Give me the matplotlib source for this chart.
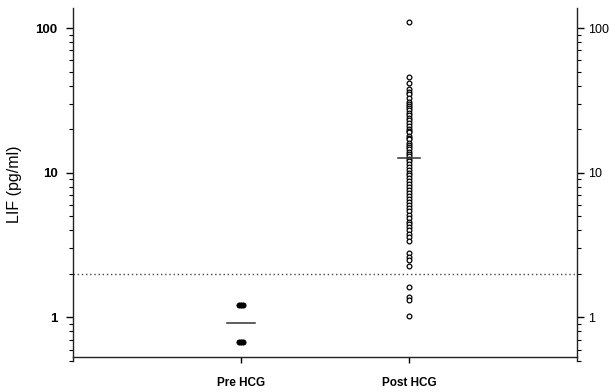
import matplotlib
matplotlib.use("Agg")
import matplotlib.pyplot as plt
from matplotlib.ticker import LogLocator, NullFormatter, FixedLocator

plt.rcParams['font.family'] = ['Liberation Sans', 'DejaVu Sans']

categories = ["Pre HCG", "Post HCG"]
pre_values = [1.22, 1.22, 1.22, 0.68, 0.68, 0.68]
post_values = [110, 45.7, 42, 37.8, 36, 35, 33,
               31, 30, 29, 28, 27, 26, 25, 24, 23, 22, 21, 20, 19.5, 19, 18, 17.5,
               17, 16, 15.5, 15, 14.5, 14, 13.5, 13, 12.5, 12, 11.5, 11, 10.5, 10,
               9.6, 9.2, 8.8, 8.4, 8, 7.6, 7.2, 6.9, 6.6, 6.3, 6.0, 5.7, 5.4, 5.1,
               4.9, 4.6, 4.4, 4.2, 4.0, 3.8, 3.6, 3.4,
               2.79, 2.61, 2.48, 2.25, 1.62, 1.38, 1.31, 1.02]
means = [0.92, 12.6]
threshold = 2.0
ytick_vals = [1, 10, 100]
ytick_labels = ["1", "10", "100"]

fig = plt.figure(figsize=(6.11, 3.92), dpi=100)
ax = fig.add_axes([0.1195, 0.0791, 0.8249, 0.9005])
ax.set_yscale('log')
ax.set_ylim(0.5, 137.5)
ax.set_xlim(0, 3)

# threshold line
ax.axhline(threshold, color='#444444', linestyle=(0, (1, 2)), linewidth=1.0, zorder=1)

# pre points (filled, slightly overlapping to form small bars)
for dx in (-0.012, 0.0, 0.012):
    ax.plot([1 + dx] * len(pre_values), pre_values, 'o', color='black',
            markersize=3.0, zorder=3)

# post points
ax.plot([2] * len(post_values), post_values, 'o', markerfacecolor='white',
        markeredgecolor='black', markersize=3.4, markeredgewidth=0.9, zorder=3)

# mean lines
half_widths = [0.085, 0.065]
for i, (m, hw) in enumerate(zip(means, half_widths)):
    ax.plot([i + 1 - hw, i + 1 + hw], [m, m], color='#333333', linewidth=1.1, zorder=4)

# spines
ax.spines['top'].set_visible(False)
ax.spines['right'].set_visible(False)
ax.spines['bottom'].set_position(('data', 0.53))
for s in ('left', 'bottom'):
    ax.spines[s].set_linewidth(1.0)
    ax.spines[s].set_color('#222222')

ax.set_xticks([1, 2])
ax.set_xticklabels(categories, fontsize=8.5, fontweight='bold')
ax.tick_params(axis='x', direction='out', length=4, width=1, pad=10)

def style_y(a, side):
    a.yaxis.set_major_locator(FixedLocator(ytick_vals))
    a.set_yticklabels(ytick_labels)
    a.yaxis.set_minor_locator(LogLocator(base=10, subs=[2, 3, 4, 5, 6, 7, 8, 9]))
    a.yaxis.set_minor_formatter(NullFormatter())

style_y(ax, 'left')
ax.tick_params(axis='y', which='major', direction='out', length=5, width=1,
               labelsize=9.5, pad=6)
ax.tick_params(axis='y', which='minor', direction='out', length=3, width=0.8)
for lbl in ax.get_yticklabels():
    lbl.set_fontweight('bold')

ax2 = ax.twinx()
ax2.set_yscale('log')
ax2.set_ylim(ax.get_ylim())
for s in ('left', 'top', 'bottom'):
    ax2.spines[s].set_visible(False)
ax2.spines['right'].set_linewidth(1.0)
ax2.spines['right'].set_color('#222222')
style_y(ax2, 'right')
ax2.tick_params(axis='y', which='major', direction='out', length=5, width=1,
                labelsize=9, pad=3)
ax2.tick_params(axis='y', which='minor', direction='out', length=3, width=0.8)

ax.set_ylabel("LIF (pg/ml)", fontsize=11.5, labelpad=10)

fig.savefig("out.png", dpi=100)
